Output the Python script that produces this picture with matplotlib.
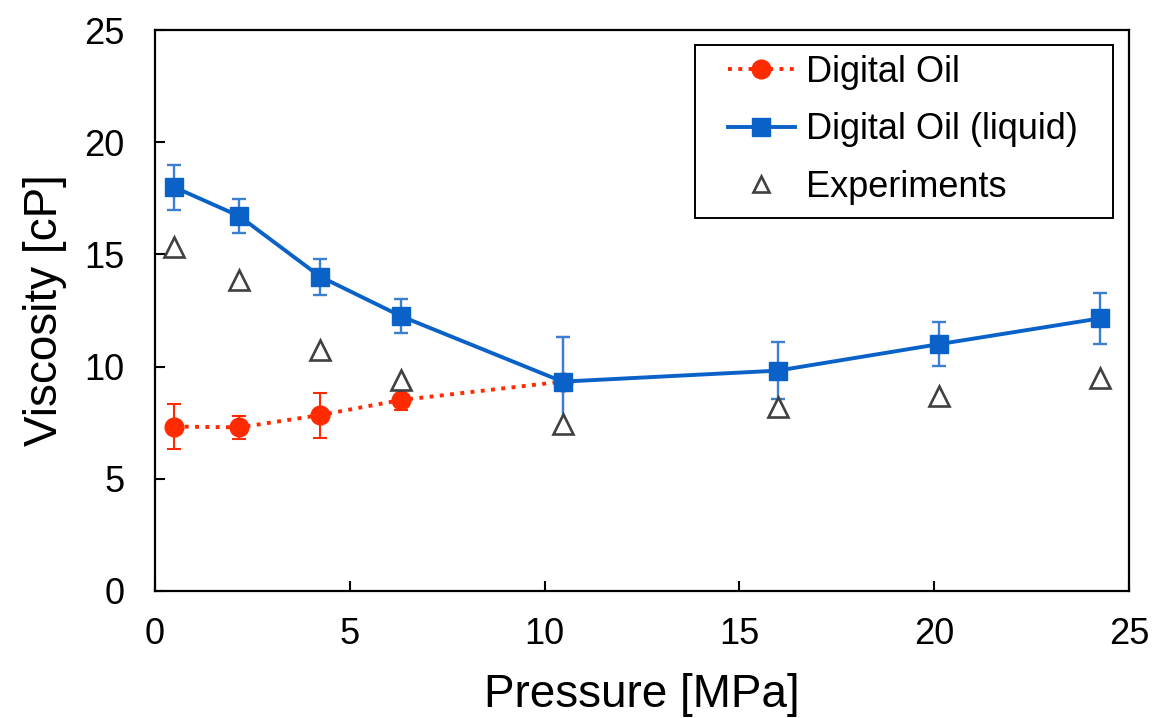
import matplotlib
matplotlib.use("Agg")
import matplotlib.pyplot as plt
from matplotlib.lines import Line2D
from matplotlib.patches import Rectangle

plt.rcParams['font.family'] = ['Liberation Sans', 'DejaVu Sans']

# pressure [MPa]
pressure = [0.5, 2.16, 4.24, 6.31, 10.46, 15.98, 20.12, 24.26]

# Digital Oil (all phases) - only the first five pressures
oil_p = pressure[:5]
oil_visc = [7.33, 7.29, 7.84, 8.51, 9.33]
oil_err = [1.0, 0.5, 1.0, 0.45, 2.0]

# Digital Oil (liquid)
liq_visc = [17.99, 16.71, 14.01, 12.25, 9.33, 9.82, 11.0, 12.15]
liq_err = [1.0, 0.77, 0.8, 0.77, 2.0, 1.28, 0.97, 1.15]

# experiments
exp_visc = [15.31, 13.85, 10.74, 9.39, 7.43, 8.18, 8.70, 9.50]

labels = ['Digital Oil', 'Digital Oil (liquid)', 'Experiments']

red = '#ff2a00'
blue = '#0a62c8'
blue_err = '#3a7fd2'
grey = '#404040'

W, H = 1155, 718
fig = plt.figure(figsize=(W / 100, H / 100), dpi=100)
ax = fig.add_axes([155/W, 1 - 591/H, (1129 - 155)/W, (591 - 30)/H])

ax.errorbar(oil_p, oil_visc, yerr=oil_err, color=red, ls=':', lw=2.8,
            marker='o', ms=13.5, ecolor=red, elinewidth=1.5, capsize=5,
            capthick=1.5, zorder=2)
ax.errorbar(pressure, liq_visc, yerr=liq_err, color=blue, ls='-', lw=2.8,
            marker='s', ms=12.5, ecolor=blue_err, elinewidth=1.7, capsize=5,
            capthick=1.7, zorder=3)
ax.plot(pressure, exp_visc, ls='none', marker='^', ms=14, mfc='white',
        mec=grey, mew=1.9, zorder=4)

ax.set_xlim(0, 25)
ax.set_ylim(0, 25)
ax.set_xticks([0, 5, 10, 15, 20, 25])
ax.set_yticks([0, 5, 10, 15, 20, 25])

for s in ax.spines.values():
    s.set_linewidth(1.6)
ax.tick_params(direction='in', length=7, width=1.5, labelsize=26,
               top=False, right=False)
ax.tick_params(axis='x', pad=19)
ax.tick_params(axis='y', pad=22)

ax.set_xlabel('Pressure [MPa]', fontsize=33, labelpad=15)
ax.set_ylabel('Viscosity [cP]', fontsize=33, labelpad=12)

# legend handles without the error bars, frame drawn separately
handles = [
    Line2D([], [], color=red, ls=':', lw=2.8, marker='o', ms=13.5),
    Line2D([], [], color=blue, ls='-', lw=2.8, marker='s', ms=12.5),
    Line2D([], [], ls='none', marker='^', ms=11, mfc='white', mec=grey, mew=1.9),
]
leg = ax.legend(handles, labels, loc='upper left',
                bbox_to_anchor=(728/W, 1 - 55/H),
                bbox_transform=fig.transFigure, fontsize=26, frameon=False,
                handlelength=1.85, handletextpad=0.3, borderpad=0,
                labelspacing=0.62, borderaxespad=0)
leg.set_zorder(6)
ax.add_patch(Rectangle((695/W, 1 - 218/H), (1113 - 695)/W, (218 - 45)/H,
                       transform=fig.transFigure, facecolor='white',
                       edgecolor='black', lw=1.4, zorder=5, clip_on=False))

fig.savefig('out.png', dpi=100)
